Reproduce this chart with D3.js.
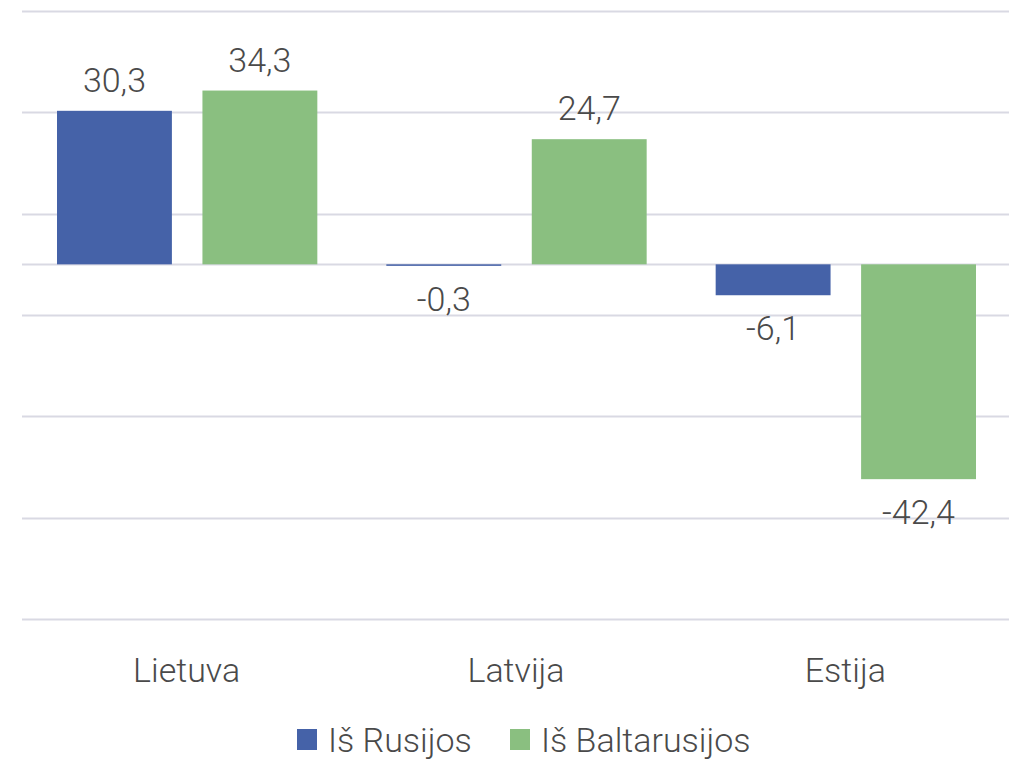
<!DOCTYPE html>
<html lang="lt">
<head>
  <meta charset="UTF-8">
  <title>Iš Rusijos / Iš Baltarusijos</title>
  <script src="https://d3js.org/d3.v7.min.js"></script>
  <style>
  body { margin: 0; background: #fff; }
  text {
    font-family: Roboto, "Open Sans", sans-serif;
    font-weight: 300;
    fill: #4a4a4a;
  }
  </style>
</head>
<body>
  <div id="chart"></div>
  <script>

  // data
  const categories = ["Lietuva", "Latvija", "Estija"];
  const seriesNames = ["Iš Rusijos", "Iš Baltarusijos"];
  const rusija = [30.3, -0.3, -6.1];
  const baltarusija = [34.3, 24.7, -42.4];
  const gridTicks = [50, 30, 10, -10, -30, -50, -70];

  const colors = ["#4562a8", "#8abf80"];
  const w = 1009, h = 759;

  const svg = d3.select("#chart").append("svg")
    .attr("width", w)
    .attr("height", h);

  const rows = categories.map((c, i) => ({cat: c, vals: [rusija[i], baltarusija[i]]}));

  // scales
  const x0 = d3.scaleBand()
    .domain(categories)
    .range([22, 1010])
    .padding(0);

  const x1 = d3.scaleBand()
    .domain(seriesNames)
    .range([35, x0.bandwidth() - 34])
    .paddingInner(0.21);

  const y = d3.scaleLinear()
    .domain([-70, 50])
    .range([619, 11]);

  // gridlines
  svg.append("g")
    .selectAll("line")
    .data(gridTicks.concat([0]))
    .join("line")
      .attr("x1", 22)
      .attr("x2", 1009)
      .attr("y1", d => Math.round(y(d)) + 0.5)
      .attr("y2", d => Math.round(y(d)) + 0.5)
      .attr("stroke", "#d9d9e3")
      .attr("stroke-width", 2);

  // bars
  const groups = svg.append("g")
    .selectAll("g")
    .data(rows)
    .join("g")
      .attr("transform", d => `translate(${x0(d.cat)},0)`);

  const cells = groups.selectAll("g")
    .data(d => d.vals.map((v, i) => ({name: seriesNames[i], v: v, i: i})))
    .join("g");

  cells.append("rect")
    .attr("x", d => x1(d.name))
    .attr("width", x1.bandwidth())
    .attr("y", d => y(Math.max(0, d.v)))
    .attr("height", d => Math.max(1.5, Math.abs(y(d.v) - y(0))))
    .attr("fill", d => colors[d.i]);

  // data labels
  cells.append("text")
    .attr("x", d => x1(d.name) + x1.bandwidth() / 2)
    .attr("y", d => d.v >= 0 ? y(d.v) - 19 : Math.max(y(d.v), y(0) + 1.5) + 45)
    .attr("text-anchor", "middle")
    .style("font-size", "34px")
    .text(d => String(d.v).replace(".", ","));

  // category labels
  svg.append("g")
    .selectAll("text")
    .data(categories)
    .join("text")
      .attr("x", d => x0(d) + x0.bandwidth() / 2)
      .attr("y", 682)
      .attr("text-anchor", "middle")
      .style("font-size", "34px")
      .text(d => d);

  // legend
  const legendX = [297, 510];
  const legend = svg.append("g")
    .selectAll("g")
    .data(seriesNames)
    .join("g")
      .attr("transform", (d, i) => `translate(${legendX[i]},0)`);

  legend.append("rect")
    .attr("y", 729)
    .attr("width", 20)
    .attr("height", 21)
    .attr("fill", (d, i) => colors[i]);

  legend.append("text")
    .attr("x", 31)
    .attr("y", 752)
    .style("font-size", "34px")
    .text(d => d);

  </script>
</body>
</html>
